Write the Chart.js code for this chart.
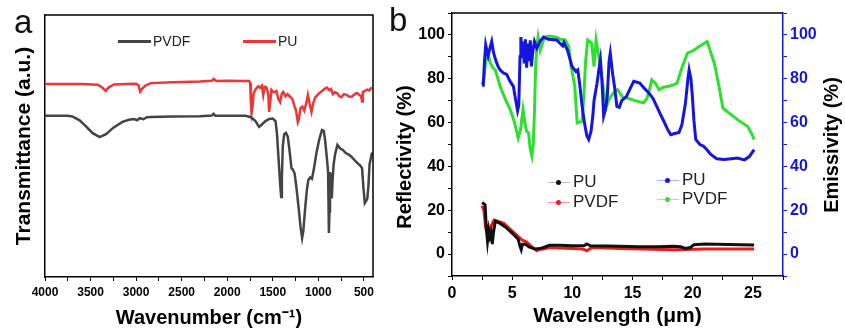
<!DOCTYPE html>
<html>
<head>
<meta charset="utf-8">
<script src="https://cdn.jsdelivr.net/npm/chart.js@4.4.0/dist/chart.umd.min.js"></script>
<style>
  body { margin:0; background:#fff; width:845px; height:336px; overflow:hidden; position:relative; font-family:"Liberation Sans", Arial, sans-serif; }
  canvas { position:absolute; top:0; }
  #cA { left:0; }
  #cB { left:388px; }
  .lbl { position:absolute; font-size:33px; line-height:33px; color:#111; }
  .lg { position:absolute; white-space:nowrap; color:#222; }
  .ln { position:absolute; }
  .dot { position:absolute; width:5px; height:5px; border-radius:50%; }
  .vt { position:absolute; width:180px; height:24px; line-height:24px; text-align:center; font-size:20px; font-weight:bold; color:#000; transform:rotate(-90deg); white-space:nowrap; }
</style>
</head>
<body>
<canvas id="cA" width="395" height="336"></canvas>
<canvas id="cB" width="457" height="336"></canvas>

<div class="lbl" style="left:14px;top:5px;">a</div>
<div class="lbl" style="left:389px;top:3px;">b</div>

<div class="vt" style="left:314px;top:145px;">Reflectivity (%)</div>
<div class="vt" style="left:741px;top:133px;">Emissivity (%)</div>

<!-- legend a -->
<div class="ln" style="left:118px;top:40px;width:33px;height:3px;background:#444;"></div>
<div class="lg" style="left:153px;top:33px;font-size:14px;">PVDF</div>
<div class="ln" style="left:243px;top:40px;width:33px;height:3px;background:#ef3535;"></div>
<div class="lg" style="left:278px;top:33px;font-size:14px;">PU</div>

<!-- legend b -->
<div class="ln" style="left:548px;top:182px;width:22px;height:1px;background:#bbb;"></div>
<div class="dot" style="left:556px;top:180px;background:#111;"></div>
<div class="lg" style="left:573px;top:172px;font-size:17px;">PU</div>
<div class="ln" style="left:548px;top:202px;width:22px;height:1px;background:#f99;"></div>
<div class="dot" style="left:556px;top:200px;background:#e81c1c;"></div>
<div class="lg" style="left:573px;top:192px;font-size:17px;">PVDF</div>
<div class="ln" style="left:657px;top:180px;width:22px;height:1px;background:#aaf;"></div>
<div class="dot" style="left:665px;top:178px;background:#1515e0;"></div>
<div class="lg" style="left:682px;top:170px;font-size:17px;">PU</div>
<div class="ln" style="left:657px;top:199px;width:22px;height:1px;background:#9e9;"></div>
<div class="dot" style="left:665px;top:197px;background:#2ee02e;"></div>
<div class="lg" style="left:682px;top:189px;font-size:17px;">PVDF</div>

<script>
// ---- panel a: FTIR ----
const wnPVDF = [4000,3750,3700,3620,3550,3480,3400,3330,3250,3150,3080,3020,2990,2960,2920,2880,2840,2600,2300,2170,2150,2130,2000,1800,1740,1690,1650,1620,1580,1540,1500,1470,1455,1440,1420,1408,1400,1390,1375,1355,1335,1315,1295,1280,1260,1240,1215,1195,1178,1165,1145,1125,1110,1090,1070,1050,1020,990,960,940,925,905,893,884,878,872,862,852,842,832,815,790,760,730,700,670,640,600,570,540,520,505,490,475,462,450,438,420,410];
const trPVDF = [61.5,61.5,61.3,59.8,57.5,55.0,53.4,54.5,57.0,59.2,60.0,60.3,59.8,60.6,60.2,61.0,61.1,61.3,61.4,61.6,62.3,61.5,61.5,61.5,61.0,59.5,57.3,58.2,59.5,60.3,60.5,59.5,55.0,47.0,36.0,30.5,38.0,50.0,54.5,55.0,53.5,48.0,41.5,41.0,39.5,34.0,26.0,19.0,14.9,17.5,26.0,33.5,37.0,38.0,37.5,41.0,47.5,52.5,56.1,55.8,52.0,45.0,40.0,16.8,25.0,40.0,38.0,30.0,38.0,43.0,47.0,50.4,49.0,48.5,47.3,46.8,46.0,44.5,43.5,42.5,41.5,34.0,28.2,29.0,30.0,35.0,43.0,46.0,47.5];

const wnPU = [4000,3600,3420,3370,3335,3300,3240,3100,3000,2975,2955,2935,2900,2840,2600,2300,2170,2150,2120,2000,1800,1760,1748,1740,1733,1722,1710,1690,1660,1640,1620,1605,1590,1570,1550,1540,1530,1515,1490,1460,1440,1420,1400,1385,1360,1340,1310,1285,1265,1245,1225,1215,1195,1175,1155,1135,1115,1095,1075,1055,1035,1000,960,930,905,880,860,840,820,795,770,745,720,690,660,630,600,576,550,530,520,512,490,466,440,425,410];
const trPU = [73.7,73.7,73.4,72.2,71.0,72.4,73.5,73.7,73.8,73.2,70.7,71.8,73.0,74.0,74.3,74.6,74.9,75.6,74.8,74.9,74.8,74.8,74.0,66.0,62.6,65.0,70.0,71.6,72.8,72.2,73.0,69.5,72.6,72.4,70.0,63.0,66.0,71.4,70.5,71.0,68.0,66.8,70.0,70.6,69.0,69.8,68.8,68.0,65.5,63.5,59.0,60.0,64.5,65.0,63.5,66.0,69.5,66.0,63.0,66.5,68.5,69.8,71.0,71.8,72.3,71.3,71.8,69.8,70.5,70.2,69.0,68.6,69.8,69.5,68.8,68.9,69.8,70.2,69.5,69.0,67.0,70.6,71.0,71.5,71.2,72.0,72.3];

const wnTicks = [4000,3500,3000,2500,2000,1500,1000,500];

// ---- panel b: reflectivity / emissivity ----
const wlEmPU = [2.5,2.6,2.7,2.8,2.9,3.0,3.15,3.3,3.45,3.6,3.8,4.0,4.3,4.55,4.8,5.1,5.3,5.45,5.55,5.65,5.72,5.8,5.9,6.0,6.1,6.2,6.3,6.4,6.5,6.6,6.7,6.85,7.05,7.3,7.6,8.0,8.7,9.0,9.2,9.3,9.6,9.8,9.97,10.3,10.45,10.6,10.8,11.0,11.2,11.36,11.55,11.7,11.8,12.05,12.2,12.33,12.45,12.6,12.75,12.9,13.05,13.15,13.35,13.5,13.7,13.9,14.1,14.5,14.8,15.1,15.6,16.0,16.36,16.7,17.06,17.3,17.6,17.9,18.17,18.5,18.86,19.1,19.4,19.6,19.7,19.85,19.97,20.1,20.25,20.6,20.9,21.2,21.5,22.0,22.6,23.2,23.7,24.3,24.7,25.1];
const emPU = [76.8,77.0,88,95.5,93,90.5,94,97,92,89,86,84,82.5,82,79,76.5,70,65.5,68,90,99,92,97,87,98,85,96,88,97.5,85.6,92,97,94,97,99,98,97.7,96,95,96.5,93,89,85.6,83.3,84,78,68,60,54,52.3,56,63,70,78,84,88.6,80,63,66,72,88,91.7,82,76.5,67.4,67,70,72,75.5,78.8,78,75.5,73.5,71,66.8,64,60.6,57,54.5,55,55.5,59,69,80,84,80,72,61,52.3,50,49.2,47.5,45.5,43.5,43.2,43.5,43.8,43,44.5,47.7];

const wlEmPVDF = [2.5,2.65,2.8,2.9,3.05,3.2,3.4,3.6,4.0,4.4,4.83,5.2,5.5,5.7,5.9,6.05,6.2,6.36,6.5,6.64,6.75,6.85,6.95,7.05,7.15,7.33,7.5,7.67,8.0,8.7,9.0,9.4,9.7,9.9,10.2,10.4,10.8,10.95,11.1,11.28,11.45,11.6,11.8,11.97,12.2,12.4,12.56,12.83,13.0,13.2,13.5,13.75,14.2,14.56,15.2,15.9,16.2,16.45,16.6,16.9,17.2,17.5,17.9,18.3,18.7,19.1,19.56,20.1,20.6,21.2,21.5,21.8,22.2,22.5,23.0,23.8,24.55,24.9,25.1];
const emPVDF = [77.3,80,88,91,90,87,85,84,76.5,71,66,60,53,57,66,60,56,55.3,48,44.7,50,65,85.6,95,99,93,96,99,99.5,99,98,97.7,94.7,85.6,76.5,59.8,60.6,72,88,97.7,97,96.2,85.6,97.7,90,82,76.5,67.4,70,72,74,75,71.5,71.2,70,69,71,76,79.5,78,75,76,76.5,77,78,85,91.7,93,95,97,92,87,76,66.7,64.4,61,58.3,55,52.3];

const wlRePU = [2.5,2.75,2.85,2.95,3.05,3.15,3.25,3.35,3.45,3.6,3.8,4.0,4.4,4.8,5.2,5.5,5.65,5.75,5.85,6.1,6.4,6.9,7.3,7.6,8.1,9,10,11,11.2,11.5,13,15.6,17,18.4,19.0,19.4,19.8,20.1,21,23,25.1];
const rePU = [23.5,22.5,12,6,11,8,10,4.5,10,15,14.5,14,12.5,10.6,8.5,6.8,3.5,2.0,4.5,4.5,3.3,2.3,2.5,3,4,4,3.8,3.9,4.6,3.8,3.7,3.4,3.4,3.6,3.3,2.6,3.0,4.3,4.6,4.4,4.1];

const wlRePVDF = [2.5,2.65,2.8,2.95,3.1,3.2,3.35,3.5,3.8,4.3,4.8,5.4,5.8,6.2,6.6,7.05,7.3,7.6,8.1,9,10.9,11.2,11.5,11.7,14,18.4,21,25.1];
const rePVDF = [22,20,12,9,11,12,14,15.5,15,14,11.5,8.6,6.5,5.5,3.5,1.5,2.2,2.3,3,2.8,2.3,1.5,2.6,3,2.5,2,2.3,2.3];

const wlTicks = [0,5,10,15,20,25];
const pctTicks = [0,20,40,60,80,100];

// helpers
function pts(xs, ys) { return xs.map((x,i)=>({x:x, y:ys[i]})); }
function stepTicks(a, b, s) { const out=[]; for (let v=a; v<=b+1e-9; v+=s) out.push({value:Math.round(v*100)/100}); return out; }

Chart.defaults.font.family = '"Liberation Sans", Arial, sans-serif';
Chart.defaults.animation = false;

// top (and right) frame lines
const boxPlugin = {
  id: 'box',
  afterDraw(chart, args, opts) {
    const a = chart.chartArea, ctx = chart.ctx;
    ctx.save();
    ctx.strokeStyle = '#000';
    ctx.lineWidth = 1.5;
    ctx.beginPath();
    ctx.moveTo(a.left, a.top);
    ctx.lineTo(a.right, a.top);
    if (opts.right) ctx.lineTo(a.right, a.bottom);
    ctx.stroke();
    ctx.restore();
  }
};

const tickFont = {size:12, weight:'bold'};

new Chart(document.getElementById('cA'), {
  type: 'line',
  data: {
    datasets: [
      { label:'PVDF', data: pts(wnPVDF, trPVDF), borderColor:'#444', borderWidth:2.5, pointRadius:0, tension:0 },
      { label:'PU', data: pts(wnPU, trPU), borderColor:'#ef3535', borderWidth:2.5, pointRadius:0, tension:0 }
    ]
  },
  options: {
    responsive: false,
    layout: { padding: { top:15, right:22, left:0, bottom:0 } },
    plugins: { legend:{display:false}, tooltip:{enabled:false}, box:{right:true} },
    scales: {
      x: {
        type:'linear', min:400, max:4000, reverse:true,
        afterBuildTicks: ax => { ax.ticks = stepTicks(500, 4000, 250).reverse(); },
        ticks: { autoSkip:false, maxRotation:0, padding:4, color:'#000', font:tickFont,
          callback: v => wnTicks.includes(v) ? String(v) : '' },
        grid: { drawOnChartArea:false, tickLength:4, color:'#000' },
        border: { color:'#000', width:1.5 },
        title: { display:true, text:'Wavenumber (cm\u207B\u00B9)', color:'#000', font:{size:20, weight:'bold'}, padding:{top:0, bottom:6} },
        afterFit: ax => { ax.height = 59; }
      },
      y: {
        min:0, max:100,
        ticks: { display:false },
        grid: { display:false },
        border: { color:'#000', width:1.5 },
        title: { display:true, text:'Transmittance (a.u.)', color:'#000', font:{size:21, weight:'bold'}, padding:{top:12, bottom:0} },
        afterFit: ax => { ax.width = 45; }
      }
    }
  },
  plugins: [boxPlugin]
});

const bTick = {size:16, weight:'bold'};
const blue = '#1515e0';

new Chart(document.getElementById('cB'), {
  type: 'line',
  data: {
    datasets: [
      { label:'PU', data: pts(wlRePU, rePU), yAxisID:'y', borderColor:'#111', borderWidth:3, pointRadius:0, tension:0 },
      { label:'PVDF', data: pts(wlRePVDF, rePVDF), yAxisID:'y', borderColor:'#e81c1c', borderWidth:3, pointRadius:0, tension:0 },
      { label:'PU', data: pts(wlEmPU, emPU), yAxisID:'y1', borderColor:blue, borderWidth:3, pointRadius:0, tension:0 },
      { label:'PVDF', data: pts(wlEmPVDF, emPVDF), yAxisID:'y1', borderColor:'#2ee02e', borderWidth:3, pointRadius:0, tension:0 }
    ]
  },
  options: {
    responsive: false,
    layout: { padding: { top:13, right:0, left:0, bottom:0 } },
    plugins: { legend:{display:false}, tooltip:{enabled:false}, box:{right:false} },
    scales: {
      x: {
        type:'linear', min:0, max:27.5,
        afterBuildTicks: ax => { ax.ticks = stepTicks(0, 27.5, 2.5); },
        ticks: { autoSkip:false, maxRotation:0, padding:4, color:'#000', font:bTick,
          callback: v => wlTicks.includes(v) ? String(v) : '' },
        grid: { drawOnChartArea:false, tickLength:4, color:'#000' },
        border: { color:'#000', width:1.5 },
        title: { display:true, text:'Wavelength (\u03BCm)', color:'#000', font:{size:21, weight:'bold'}, padding:{top:0, bottom:7} },
        afterFit: ax => { ax.height = 60; }
      },
      y: {
        position:'left', min:-10, max:110,
        afterBuildTicks: ax => { ax.ticks = stepTicks(-10, 110, 10); },
        ticks: { autoSkip:false, padding:3, color:'#000', font:bTick,
          callback: v => pctTicks.includes(v) ? String(v) : '' },
        grid: { drawOnChartArea:false, tickLength:4, color:'#000' },
        border: { color:'#000', width:1.5 },
        afterFit: ax => { ax.width = 64; }
      },
      y1: {
        position:'right', min:-10, max:110,
        afterBuildTicks: ax => { ax.ticks = stepTicks(-10, 110, 10); },
        ticks: { autoSkip:false, padding:3, color:blue, font:bTick,
          callback: v => pctTicks.includes(v) ? String(v) : '' },
        grid: { drawOnChartArea:false, tickLength:4, color:blue },
        border: { color:blue, width:1.5 },
        afterFit: ax => { ax.width = 62; }
      }
    }
  },
  plugins: [boxPlugin]
});
</script>
</body>
</html>
